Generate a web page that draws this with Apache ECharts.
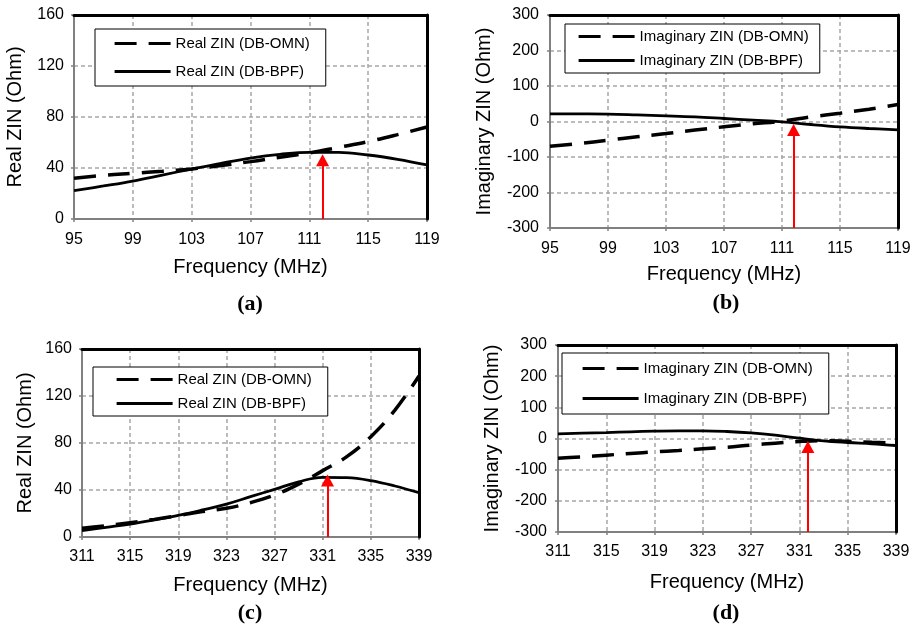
<!DOCTYPE html>
<html>
<head>
<meta charset="utf-8">
<title>ZIN</title>
<script src="https://cdn.jsdelivr.net/npm/echarts@6/dist/echarts.min.js"></script>
<style>
html, body { margin: 0; padding: 0; background: #fff; }
#chart { width: 918px; height: 629px; }
</style>
</head>
<body>
<div id="chart"></div>
<script>
// 95-119 MHz band
var freqLow = [95, 97, 99, 101, 103, 105, 107, 109, 111, 113, 115, 117, 119];
var realOmnLow = [32, 34.2, 35.8, 37.4, 39.2, 42, 45, 48.5, 51.8, 56.2, 60.7, 66.2, 72.2];
var realBpfLow = [22.2, 25.9, 29.8, 34.5, 39.2, 43.7, 47.8, 50.7, 52.3, 52.3, 50.2, 46.8, 42.4];
var imagOmnLow = [-69.5, -62, -52.6, -43, -34, -24, -15, -6.6, 1, 13, 23.5, 34.7, 48];
var imagBpfLow = [21.6, 21.3, 20.7, 18.5, 16, 13, 8.5, 3.8, -1, -8.5, -15, -19.7, -23.5];

// 311-339 MHz band
var freqHigh = [311, 313, 315, 317, 319, 321, 323, 325, 327, 329, 331, 333, 335, 337, 339];
var realOmnHigh = [7.4, 9.6, 12.2, 15, 18.2, 21.6, 24.4, 29.2, 35.7, 45, 56.5, 68.4, 85.4, 108, 137];
var realBpfHigh = [5.4, 8.2, 11, 14.5, 18.4, 23, 28, 34.3, 40.6, 47, 50.8, 50.5, 48, 43.4, 37.7];
var imagOmnHigh = [-63, -59, -53.5, -48, -43, -38.5, -33, -28, -21, -15, -9.6, -7, -9, -12, -15];
var imagBpfHigh = [15, 17, 19, 21.4, 23.5, 24.6, 24.6, 22.5, 18, 10.7, 1, -7.5, -12.8, -17, -22.5];

// red arrows: [freq, start, end]
var arrowA = [111.9, 0, 46];
var arrowB = [111.8, -300, -24];
var arrowC = [331.4, 0, 48];
var arrowD = [331.7, -300, -27];

var FONT = '"Liberation Sans", Arial, sans-serif';

function pairs(xs, ys) {
	var out = [];
	for (var i = 0; i < xs.length; i++) {
		out.push([xs[i], ys[i]]);
	}
	return out;
}

var panels = [
	{grid: {left: 74, top: 15, width: 353, height: 204}, xMin: 95, xMax: 119, yMin: 0, yMax: 160, yStep: 40,
		yName: 'Real ZIN (Ohm)', yGap: 49, xGap: 38, xMargin: 13, yMargin: 10,
		names: ['Real ZIN (DB-OMN)', 'Real ZIN (DB-BPF)'], freq: freqLow, omn: realOmnLow, bpf: realBpfLow, arrow: arrowA,
		legend: {left: 95, top: 29, itemGap: 13, padding: [7, 16, 7, 18]},
		tag: '(a)', tagPos: [250, 304]},
	{grid: {left: 550, top: 15, width: 348, height: 213}, xMin: 95, xMax: 119, yMin: -300, yMax: 300, yStep: 100,
		yName: 'Imaginary ZIN (Ohm)', yGap: 56, xGap: 36, xMargin: 13, yMargin: 11,
		names: ['Imaginary ZIN (DB-OMN)', 'Imaginary ZIN (DB-BPF)'], freq: freqLow, omn: imagOmnLow, bpf: imagBpfLow, arrow: arrowB,
		legend: {left: 565, top: 24, itemGap: 9, padding: [5, 11, 5, 12]},
		tag: '(b)', tagPos: [726, 303]},
	{grid: {left: 82, top: 349, width: 337, height: 188}, xMin: 311, xMax: 339, yMin: 0, yMax: 160, yStep: 40,
		yName: 'Real ZIN (Ohm)', yGap: 47, xGap: 38, xMargin: 12, yMargin: 10,
		names: ['Real ZIN (DB-OMN)', 'Real ZIN (DB-BPF)'], freq: freqHigh, omn: realOmnHigh, bpf: realBpfHigh, arrow: arrowC,
		legend: {left: 93, top: 367, itemGap: 9, padding: [5, 16, 5, 22]},
		tag: '(c)', tagPos: [250, 613]},
	{grid: {left: 558, top: 345, width: 338, height: 187}, xMin: 311, xMax: 339, yMin: -300, yMax: 300, yStep: 100,
		yName: 'Imaginary ZIN (Ohm)', yGap: 56, xGap: 40, xMargin: 12, yMargin: 11,
		names: ['Imaginary ZIN (DB-OMN)', 'Imaginary ZIN (DB-BPF)'], freq: freqHigh, omn: imagOmnHigh, bpf: imagBpfHigh, arrow: arrowD,
		legend: {left: 562, top: 353, itemGap: 15, padding: [8, 16, 8, 19]},
		tag: '(d)', tagPos: [726, 613]}
];

var grids = [], xAxes = [], yAxes = [], series = [], legends = [], graphics = [];

for (var i = 0; i < panels.length; i++) {
	var p = panels[i];
	grids.push(p.grid);

	// bottom axis
	xAxes.push({
		type: 'value', gridIndex: i, min: p.xMin, max: p.xMax, interval: 4, z: 3,
		name: 'Frequency (MHz)', nameLocation: 'middle', nameGap: p.xGap,
		nameTextStyle: {fontFamily: FONT, fontSize: 20, color: '#000'},
		axisLine: {show: true, onZero: false, lineStyle: {color: '#808080', width: 2}},
		axisTick: {show: true, length: 3, lineStyle: {color: '#808080', width: 1.5}},
		axisLabel: {fontFamily: FONT, fontSize: 16, color: '#000', margin: p.xMargin},
		splitLine: {show: true, lineStyle: {color: '#a6a6a6', width: 1.5, type: [4, 3]}}
	});
	// top border
	xAxes.push({
		type: 'value', gridIndex: i, position: 'top', min: p.xMin, max: p.xMax, z: 5,
		axisLine: {show: true, onZero: false, lineStyle: {color: '#000', width: 3}},
		axisTick: {show: false}, axisLabel: {show: false}, splitLine: {show: false}
	});
	// left axis
	yAxes.push({
		type: 'value', gridIndex: i, min: p.yMin, max: p.yMax, interval: p.yStep, z: 3,
		name: p.yName, nameLocation: 'middle', nameGap: p.yGap,
		nameTextStyle: {fontFamily: FONT, fontSize: 20, color: '#000'},
		axisLine: {show: true, onZero: false, lineStyle: {color: '#808080', width: 2}},
		axisTick: {show: true, length: 3, lineStyle: {color: '#808080', width: 1.5}},
		axisLabel: {fontFamily: FONT, fontSize: 16, color: '#000', margin: p.yMargin},
		splitLine: {show: true, lineStyle: {color: '#a6a6a6', width: 1.5, type: [4, 3]}}
	});
	// right border
	yAxes.push({
		type: 'value', gridIndex: i, position: 'right', min: p.yMin, max: p.yMax, z: 5,
		axisLine: {show: true, onZero: false, lineStyle: {color: '#000', width: 3}},
		axisTick: {show: false}, axisLabel: {show: false}, splitLine: {show: false}
	});

	series.push({
		name: p.names[0], type: 'line', xAxisIndex: 2 * i, yAxisIndex: 2 * i,
		data: pairs(p.freq, p.omn), smooth: 0.4, symbol: 'none', z: 4,
		lineStyle: {color: '#000', width: 3.5, type: [22, 12]},
		itemStyle: {color: '#000'}
	});
	series.push({
		name: p.names[1], type: 'line', xAxisIndex: 2 * i, yAxisIndex: 2 * i,
		data: pairs(p.freq, p.bpf), smooth: 0.4, symbol: 'none', z: 4,
		lineStyle: {color: '#000', width: 2.8, type: 'solid'},
		itemStyle: {color: '#000'},
		markLine: {
			silent: true, animation: false,
			symbol: ['none', 'triangle'], symbolSize: [13, 12],
			label: {show: false},
			emphasis: {disabled: true},
			lineStyle: {color: '#ff0000', width: 2, type: 'solid'},
			itemStyle: {color: '#ff0000'},
			data: [[{coord: [p.arrow[0], p.arrow[1]]}, {coord: [p.arrow[0], p.arrow[2]]}]]
		}
	});

	legends.push({
		left: p.legend.left, top: p.legend.top, orient: 'vertical', z: 6,
		data: p.names, selectedMode: false,
		itemWidth: 56, itemHeight: 14, itemGap: p.legend.itemGap, padding: p.legend.padding,
		borderColor: '#000', borderWidth: 1, backgroundColor: '#fff',
		itemStyle: {opacity: 0},
		lineStyle: {width: 3.2},
		textStyle: {fontFamily: FONT, fontSize: 15, color: '#000'}
	});

	graphics.push({
		type: 'text', x: p.tagPos[0], y: p.tagPos[1],
		style: {text: p.tag, font: 'bold 22px "Liberation Serif", "Times New Roman", serif', fill: '#000', align: 'center', verticalAlign: 'middle'}
	});
}

var chart = echarts.init(document.getElementById('chart'));
chart.setOption({
	animation: false,
	backgroundColor: '#fff',
	grid: grids,
	xAxis: xAxes,
	yAxis: yAxes,
	legend: legends,
	series: series,
	graphic: graphics
});
</script>
</body>
</html>
